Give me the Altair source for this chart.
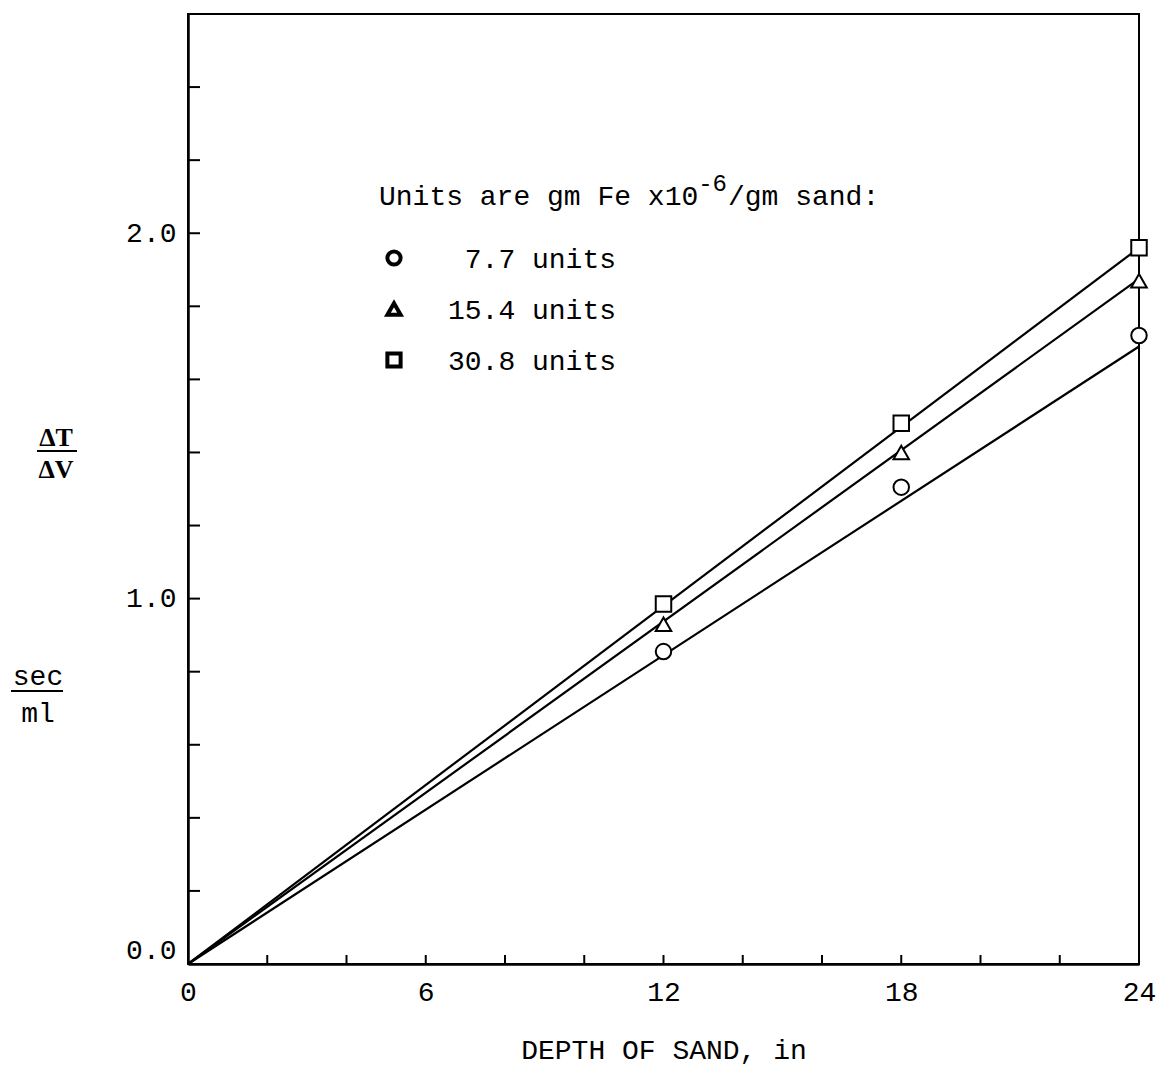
import altair as alt
import pandas as pd

# ---- data ----
series = ["7.7 units", "15.4 units", "30.8 units"]
shapes = ["circle", "triangle-up", "square"]
depth = [12, 18, 24]
vals_77 = [0.855, 1.305, 1.72]
vals_154 = [0.93, 1.40, 1.87]
vals_308 = [0.985, 1.48, 1.96]

fit_depth = [0, 24]
fit_77 = [0.0, 1.69]
fit_154 = [0.0, 1.875]
fit_308 = [0.0, 1.96]

x_label_vals = [0, 6, 12, 18, 24]
y_label_vals = [0.0, 1.0, 2.0]
x_tick_vals = [2, 4, 6, 8, 10, 12, 14, 16, 18, 20, 22]
y_tick_vals = [0.2, 0.4, 0.6, 0.8, 1.0, 1.2, 1.4, 1.6, 1.8, 2.0, 2.2, 2.4]

legend_title_parts = ["Units are gm Fe x10", "-6", "/gm sand:"]

# ---- tables ----
pts = pd.DataFrame({
    "series": [series[0]] * 3 + [series[1]] * 3 + [series[2]] * 3,
    "depth": depth * 3,
    "value": vals_77 + vals_154 + vals_308,
})
fits = pd.DataFrame({
    "series": [series[0]] * 2 + [series[1]] * 2 + [series[2]] * 2,
    "depth": fit_depth * 3,
    "value": fit_77 + fit_154 + fit_308,
})
one = pd.DataFrame({"a": [0]})

W, H = 951, 950
FONT = "Liberation Mono"
CH = 0.6 * 28  # monospace advance at 28px

x_scale = alt.Scale(domain=[0, 24], nice=False, zero=False)
y_scale = alt.Scale(domain=[0, 2.6], nice=False)
x_axis = alt.Axis(values=x_label_vals, format="d", title="DEPTH OF SAND, in", labelFlush=False)
y_axis = alt.Axis(values=y_label_vals, format=".1f", title=None, labelFlush=True)
shape_scale = alt.Scale(domain=series, range=shapes)

lines = alt.Chart(fits).mark_line(color="black", strokeWidth=2.2).encode(
    x=alt.X("depth:Q", scale=x_scale, axis=x_axis),
    y=alt.Y("value:Q", scale=y_scale, axis=y_axis),
    detail="series:N",
)

points = alt.Chart(pts).mark_point(
    filled=True, fill="white", stroke="black", strokeWidth=2, size=240, opacity=1
).encode(
    x=alt.X("depth:Q", scale=x_scale, axis=x_axis),
    y=alt.Y("value:Q", scale=y_scale, axis=y_axis),
    shape=alt.Shape("series:N", scale=shape_scale, legend=None),
)

xticks = alt.Chart(pd.DataFrame({"depth": x_tick_vals})).mark_rule(
    color="black", strokeWidth=2
).encode(
    x=alt.X("depth:Q", scale=x_scale, axis=x_axis),
    y=alt.value(H),
    y2=alt.value(H - 9),
)
yticks = alt.Chart(pd.DataFrame({"value": y_tick_vals})).mark_rule(
    color="black", strokeWidth=2
).encode(
    y=alt.Y("value:Q", scale=y_scale, axis=y_axis),
    x=alt.value(0),
    x2=alt.value(12),
)


def label(txt, x, y, font=FONT, size=28, weight="normal", align="center"):
    return alt.Chart(one).mark_text(
        font=font, fontSize=size, fontWeight=weight, color="black",
        align=align, baseline="alphabetic",
    ).encode(x=alt.value(x), y=alt.value(y), text=alt.value(txt))


def bar(x1, x2, y):
    return alt.Chart(one).mark_rule(color="black", strokeWidth=2).encode(
        x=alt.value(x1), x2=alt.value(x2), y=alt.value(y)
    )


ylabels = [
    label("\u0394T", -132, 432, font="Liberation Serif", size=26, weight="bold"),
    bar(-151, -111, 437),
    label("\u0394V", -132, 464, font="Liberation Serif", size=26, weight="bold"),
    label("sec", -150, 671),
    bar(-177, -125, 677),
    label("ml", -150, 708),
]

# ---- legend block (heading + key rows) ----
tx0 = 191
t1 = legend_title_parts[0]
sup_x = tx0 + len(t1) * CH
sup_w = len(legend_title_parts[1]) * 0.6 * 24
legend_layers = [
    label(t1, tx0, 191, align="left"),
    label(legend_title_parts[1], sup_x, 177, size=24, align="left"),
    label(legend_title_parts[2], sup_x + sup_w + 1, 191, align="left"),
]
row0, row_gap = 244, 51
label_x = 260
max_len = max(len(s) for s in series)
for i, (name, shp) in enumerate(zip(series, shapes)):
    cy = row0 + i * row_gap
    legend_layers.append(
        alt.Chart(one).mark_point(
            shape=shp, filled=True, fill="white", stroke="black",
            strokeWidth=4, size=175, opacity=1,
        ).encode(x=alt.value(206), y=alt.value(cy))
    )
    legend_layers.append(
        label(name, label_x + (max_len - len(name)) * CH, cy + 10, align="left")
    )

chart = alt.layer(lines, xticks, yticks, points, *ylabels, *legend_layers).properties(
    width=W, height=H,
    padding={"left": 2, "top": 6, "right": 0, "bottom": 2},
).configure_view(
    stroke="black", strokeWidth=2
).configure_axis(
    grid=False, ticks=False, domainColor="black", domainWidth=2.5,
    labelFont=FONT, labelFontSize=28, labelColor="black", labelPadding=12,
    titleFont=FONT, titleFontSize=28, titleFontWeight="normal", titleColor="black",
).configure_axisX(
    labelPadding=14, titlePadding=30,
)

chart.save("out.html", embed_options={"renderer": "svg", "actions": False})
